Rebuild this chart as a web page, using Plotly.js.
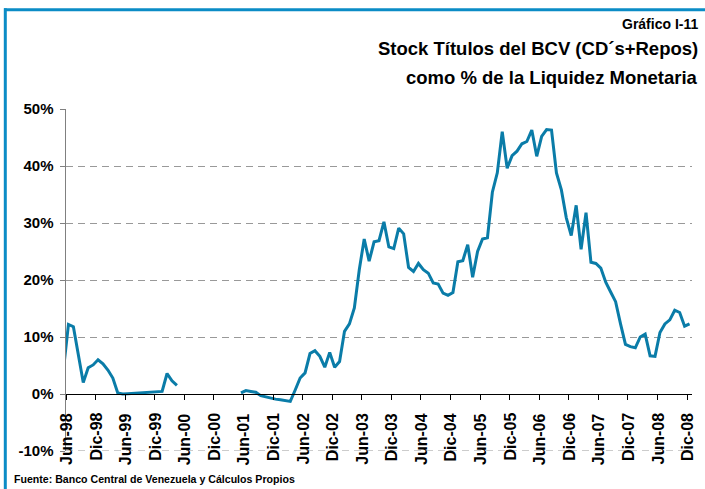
<!DOCTYPE html>
<html>
<head>
<meta charset="utf-8">
<script src="https://cdn.plot.ly/plotly-3.0.1.min.js"></script>
<style>html,body{margin:0;padding:0;background:#fff;}#chart{width:705px;height:489px;}</style>
</head>
<body>
<div id="chart"></div>
<script>
// Month index 0 = Jun-98 (tick at start of month); each value sits mid-month.
const seg1StartIndex = -1; // May-98
const seg1Values = [4.4, 12.2, 11.8, 7.2, 2.0, 4.6, 5.1, 6.0, 5.3, 4.2, 2.8, 0.2,
  0.0, 0.05, 0.1, 0.2, 0.2, 0.3, 0.4, 0.4, 0.45, 3.6, 2.3, 1.5];
const seg2StartIndex = 35; // May-01
const seg2Values = [0.2, 0.6, 0.45, 0.3, -0.3, -0.5, -0.8, -0.9, -1.0, -1.1, -1.3, 0.7,
  2.8, 3.7, 7.1, 7.6, 6.6, 4.7, 7.3, 4.7, 5.7, 11.0, 12.3, 15.1,
  21.8, 27.2, 23.3, 26.7, 26.9, 30.2, 25.8, 25.5, 29.1, 28.1, 22.2, 21.5,
  22.9, 21.8, 21.2, 19.5, 19.3, 17.7, 17.3, 17.8, 23.2, 23.4, 26.2, 20.5,
  25.0, 27.2, 27.4, 35.4, 38.8, 46.0, 39.6, 41.8, 42.6, 43.9, 44.3, 46.3,
  41.7, 45.2, 46.4, 46.3, 38.8, 35.8, 30.9, 27.8, 33.1, 25.4, 31.8, 23.1,
  22.9, 22.1, 19.6, 17.9, 16.2, 12.3, 8.7, 8.3, 8.1, 10.0, 10.5, 6.7,
  6.6, 10.8, 12.3, 13.0, 14.7, 14.3, 11.9, 12.3];
const tickLabels = ['Jun-98','Dic-98','Jun-99','Dic-99','Jun-00','Dic-00','Jun-01','Dic-01',
  'Jun-02','Dic-02','Jun-03','Dic-03','Jun-04','Dic-04','Jun-05','Dic-05','Jun-06','Dic-06',
  'Jun-07','Dic-07','Jun-08','Dic-08'];
const yTicks = [-10, 0, 10, 20, 30, 40, 50];

const xs = [], ys = [];
seg1Values.forEach((v, i) => { xs.push(seg1StartIndex + i + 0.5); ys.push(v); });
xs.push(null); ys.push(null);
seg2Values.forEach((v, i) => { xs.push(seg2StartIndex + i + 0.5); ys.push(v); });

const W = 705, H = 489, L = 66, R = 13, T = 109, B = 38;
const pw = W - L - R, ph = H - T - B;
const px = x => (x - L) / pw;
const py = y => (H - B - y) / ph;

const FONT = 'Liberation Sans, Arial, sans-serif';
const frame = '#0b8cc6';
const gridColor = '#999999';
const tickPos = tickLabels.map((_, i) => i * 6);
const X_MAX = 127;
const Y_MIN = yTicks[0];

const xLabelAnns = tickLabels.map((t, i) => ({
  text: t, xref: 'x', yref: 'y', x: tickPos[i], y: 0, xanchor: 'center', yanchor: 'top',
  yshift: -18, textangle: -90, showarrow: false, borderpad: 0,
  font: {family: FONT, size: 16, color: '#000', weight: 'bold'}
}));

const layout = {
  width: W, height: H,
  margin: {l: L, r: R, t: T, b: B, pad: 0},
  paper_bgcolor: '#fff', plot_bgcolor: '#fff',
  showlegend: false,
  xaxis: {
    range: [0, X_MAX],
    tickvals: tickPos,
    showticklabels: false,
    showline: false, showgrid: false, zeroline: false, ticks: ''
  },
  xaxis2: {
    range: [0, X_MAX],
    overlaying: 'x',
    tickvals: tickPos,
    showticklabels: false,
    anchor: 'free', position: 10 / 60,
    showline: true, linecolor: '#000', linewidth: 1,
    ticks: 'outside', ticklen: 5, tickcolor: '#000', tickwidth: 1,
    showgrid: false, zeroline: false
  },
  yaxis: {
    range: [-10, 50],
    tickvals: yTicks,
    ticktext: yTicks.map(v => v + '%'),
    showline: true, linecolor: '#808080', linewidth: 1.5,
    ticks: 'outside', ticklen: 5, tickcolor: '#808080', tickwidth: 1,
    ticklabelstandoff: 3,
    showgrid: true, gridcolor: gridColor, gridwidth: 1, griddash: '7px,5px',
    zeroline: false,
    tickfont: {family: FONT, size: 15, color: '#000', weight: 'bold'}
  },
  shapes: [
    {type: 'line', xref: 'x', yref: 'y', x0: 0, x1: X_MAX, y0: Y_MIN, y1: Y_MIN, layer: 'below',
      line: {color: gridColor, width: 1, dash: '7px,5px'}},
    {type: 'line', xref: 'paper', yref: 'paper', x0: px(4), x1: px(705), y0: py(9.7), y1: py(9.7),
      line: {color: frame, width: 3}},
    {type: 'line', xref: 'paper', yref: 'paper', x0: px(5.3), x1: px(5.3), y0: py(8.3), y1: py(489),
      line: {color: frame, width: 3}}
  ],
  annotations: xLabelAnns.concat([
    {text: 'Gráfico I-11', xref: 'paper', yref: 'paper', x: px(700), y: py(23.5),
      xanchor: 'right', yanchor: 'middle', showarrow: false,
      font: {family: FONT, size: 14, color: '#000', weight: 'bold'}},
    {text: 'Stock Títulos del BCV (CD´s+Repos)', xref: 'paper', yref: 'paper', x: px(700), y: py(49),
      xanchor: 'right', yanchor: 'middle', showarrow: false,
      font: {family: FONT, size: 18.5, color: '#000', weight: 'bold'}},
    {text: 'como % de la Liquidez Monetaria', xref: 'paper', yref: 'paper', x: px(700), y: py(77),
      xanchor: 'right', yanchor: 'middle', showarrow: false,
      font: {family: FONT, size: 18.5, color: '#000', weight: 'bold'}},
    {text: 'Fuente: Banco Central de Venezuela y Cálculos Propios', xref: 'paper', yref: 'paper',
      x: px(12), y: py(479), xanchor: 'left', yanchor: 'middle', showarrow: false,
      font: {family: FONT, size: 10.6, color: '#000', weight: 'bold'}}
  ])
};

const trace = {
  x: xs, y: ys, type: 'scatter', mode: 'lines', connectgaps: false,
  line: {color: '#0a7ca8', width: 3}, hoverinfo: 'skip'
};
// invisible helper trace so the overlaying x axis (the line at 0%) is drawn
const axisTrace = {
  x: [0, X_MAX], y: [null, null], xaxis: 'x2', yaxis: 'y', type: 'scatter', mode: 'lines',
  hoverinfo: 'skip', showlegend: false
};

Plotly.newPlot('chart', [trace, axisTrace], layout, {displayModeBar: false, staticPlot: true});
</script>
</body>
</html>
